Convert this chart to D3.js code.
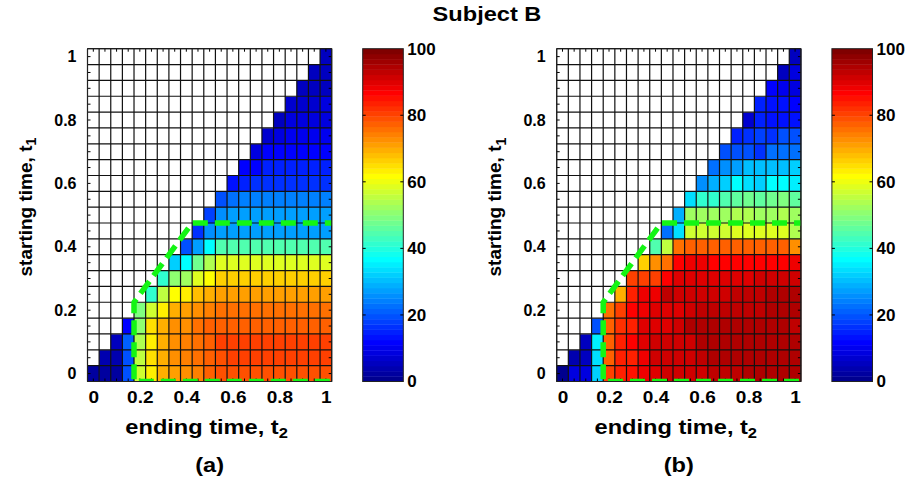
<!DOCTYPE html>
<html>
<head>
<meta charset="utf-8">
<script src="https://cdn.jsdelivr.net/npm/d3@7/dist/d3.min.js"></script>
<style>
  body { margin: 0; background: #fff; }
  svg text { font-family: "Liberation Sans", Arial, Helvetica, sans-serif; font-weight: bold; fill: #000; }
</style>
</head>
<body>
<svg id="chart" width="909" height="483"></svg>
<script>
// ---- data -------------------------------------------------------------
// grid of times, step 0.05
const tSteps = d3.range(21).map(i => +(i * 0.05).toFixed(2));
const axisTicks = [0, 0.2, 0.4, 0.6, 0.8, 1];
const colorbarTicks = [0, 20, 40, 60, 80, 100];
const panelLabels = ["(a)", "(b)"];
const chartTitle = "Subject B";

// row i = starting time t1 = tSteps[i]; entries cover ending times t2 = tSteps[i..20]
const panelA = [
  [3,3,3,19,57,64,69,71,73,74,77,79,79,79,79,79,79,79,79,79,79],
  [4,4,20,55,65,70,72,74,75,77,79,80,81,81,81,81,80,80,80,80],
  [5,21,54,64,69,72,74,76,78,80,81,81,81,81,81,80,80,80,80],
  [12,51,65,69,72,73,75,77,78,78,78,78,78,78,78,78,78,78],
  [49,57,64,70,71,72,74,75,75,75,75,75,75,75,75,75,75],
  [42,55,62,63,68,70,71,71,71,71,71,71,71,71,71,71],
  [42,51,53,59,62,66,66,66,66,66,66,66,66,66,66],
  [32,37,47,54,58,59,59,59,59,59,59,59,59,59],
  [20,28,37,44,44,44,44,44,44,44,44,44,44],
  [17,25,27,27,27,27,27,27,27,27,27,27],
  [18,26,27,27,27,27,27,27,27,27,27],
  [19,22,24,24,24,24,24,24,24,24],
  [13,15,17,17,17,17,17,17,17],
  [12,12,15,15,15,15,15,15],
  [8,11,12,12,12,12,12],
  [7,9,10,10,10,10],
  [6,8,8,8,8],
  [7,7,7,8],
  [6,6,6],
  [6,6],
  [5]
];

const panelB = [
  [1,9,9,32,80,83,85,89,90,91,91,92,92,93,93,93,94,94,94,94,94],
  [4,5,34,78,83,84,89,91,91,91,92,93,94,94,95,95,95,95,94,94],
  [6,35,78,83,87,90,91,91,91,92,94,95,95,95,95,95,95,95,94],
  [20,77,82,84,90,90,90,91,94,94,94,94,94,94,94,94,94,93],
  [75,81,86,88,90,90,90,91,93,93,93,93,93,93,94,94,94],
  [70,83,88,89,93,91,91,91,92,92,93,93,93,94,94,94],
  [80,80,81,87,90,90,90,90,90,90,90,91,91,92,92],
  [66,72,75,86,88,88,87,87,87,87,87,87,87,88],
  [44,56,75,77,77,77,77,77,77,77,77,77,72],
  [22,34,57,57,57,57,58,58,58,59,58,54],
  [29,53,53,53,53,54,54,53,53,54,52],
  [34,41,42,45,46,47,46,48,49,46],
  [26,29,32,36,34,32,36,37,35],
  [22,25,27,30,30,31,31,32],
  [20,19,19,17,23,22,23],
  [15,17,18,17,19,20],
  [7,15,14,14,14],
  [15,14,14,12],
  [11,10,8],
  [6,8],
  [6]
];

// dashed region boundary, as [t2, t1] points
const boundary = [[1.06, 0.475], [0.425, 0.475], [0.175, 0.225], [0.175, -0.025], [1.06, -0.025]];

// ---- layout -----------------------------------------------------------
const frameTop = 48.7, frameW = 244.2, frameH = 332.8;
const panelLeft = [87.5, 556.7];
const cbGap = 275.2, cbW = 40.6;
const step = 0.05, half = step / 2;
const wide = 1.18;   // horizontal stretch of the horizontal captions

const svg = d3.select("#chart");

// MATLAB-style 64-level jet colormap
const jet64 = (() => {
  const n = 16;
  const u = [null, ...d3.range(1, n + 1).map(k => k / n), ...Array(n - 1).fill(1), ...d3.range(n, 0, -1).map(k => k / n)];
  const pick = i => (i >= 1 && i < u.length) ? u[i] : 0;
  return d3.range(1, 65).map(i => d3.rgb(255 * pick(i - 24), 255 * pick(i - 8), 255 * pick(i + 8)).formatHex());
})();
const color = d3.scaleQuantize().domain([0, 100]).range(jet64);

svg.append("text")
  .attr("transform", `translate(487,21) scale(${wide},1)`)
  .attr("text-anchor", "middle")
  .style("font-size", "20px")
  .text(chartTitle);

[panelA, panelB].forEach((values, k) => {
  const left = panelLeft[k];
  const g = svg.append("g");
  const x = d3.scaleLinear().domain([-half, 1 + half]).range([left, left + frameW]);
  const y = d3.scaleLinear().domain([-half, 1 + half]).range([frameTop + frameH, frameTop]);

  const cells = [];
  tSteps.forEach((t1, i) => tSteps.forEach((t2, j) => {
    cells.push({ t1, t2, v: j >= i ? values[i][j - i] : null });
  }));

  g.selectAll("rect.cell").data(cells).join("rect")
    .attr("class", "cell")
    .attr("x", d => x(d.t2 - half))
    .attr("y", d => y(d.t1 + half))
    .attr("width", x(step) - x(0) + 0.3)
    .attr("height", y(0) - y(step) + 0.3)
    .attr("fill", d => d.v == null ? "#ffffff" : color(d.v));

  // cell edges
  const edges = d3.range(22).map(e => -half + e * step);
  g.selectAll("line.vgrid").data(edges).join("line")
    .attr("x1", d => x(d)).attr("x2", d => x(d))
    .attr("y1", y(-half)).attr("y2", y(1 + half))
    .attr("stroke", "#111").attr("stroke-width", 1.2);
  g.selectAll("line.hgrid").data(edges).join("line")
    .attr("y1", d => y(d)).attr("y2", d => y(d))
    .attr("x1", x(-half)).attr("x2", x(1 + half))
    .attr("stroke", "#111").attr("stroke-width", 1.2);

  // small inward ticks on all four sides
  const tl = 3;
  const tickG = g.append("g").attr("stroke", "#000").attr("stroke-width", 1);
  tSteps.forEach(t => {
    tickG.append("line").attr("x1", x(-half)).attr("x2", x(-half) + tl).attr("y1", y(t)).attr("y2", y(t));
    tickG.append("line").attr("x1", x(1 + half)).attr("x2", x(1 + half) - tl).attr("y1", y(t)).attr("y2", y(t));
    tickG.append("line").attr("y1", y(1 + half)).attr("y2", y(1 + half) + tl).attr("x1", x(t)).attr("x2", x(t));
    tickG.append("line").attr("y1", y(-half)).attr("y2", y(-half) - tl).attr("x1", x(t)).attr("x2", x(t));
  });

  // dashed boundary, clipped to the plot frame
  const clipId = "clip" + k;
  svg.append("clipPath").attr("id", clipId).append("rect")
    .attr("x", x(-half)).attr("y", y(1 + half))
    .attr("width", frameW).attr("height", frameH);
  g.append("path")
    .datum(boundary)
    .attr("clip-path", `url(#${clipId})`)
    .attr("d", d3.line().x(d => x(d[0])).y(d => y(d[1])))
    .attr("fill", "none")
    .attr("stroke", "#14f514")
    .attr("stroke-width", 5.5)
    .attr("stroke-dasharray", "15,7")
    .attr("stroke-linejoin", "round");

  g.append("rect")
    .attr("x", x(-half)).attr("y", y(1 + half))
    .attr("width", frameW).attr("height", frameH)
    .attr("fill", "none").attr("stroke", "#222").attr("stroke-width", 1);

  // axes
  const fmt = d3.format("~g");
  const xAxis = g.append("g")
    .attr("transform", `translate(0,${y(-half)})`)
    .call(d3.axisBottom(x).tickValues(axisTicks).tickSize(0).tickPadding(9).tickFormat(fmt));
  const yAxis = g.append("g")
    .attr("transform", `translate(${x(-half)},0)`)
    .call(d3.axisLeft(y).tickValues(axisTicks).tickSize(0).tickPadding(11).tickFormat(fmt));
  [xAxis, yAxis].forEach(a => {
    a.select(".domain").remove();
    a.selectAll("text").attr("font-family", null);
  });
  xAxis.selectAll("text").style("font-size", "17px").attr("transform", `scale(1.12,1)`);
  yAxis.selectAll("text").style("font-size", "16px");

  // axis titles
  const cx = (x(-half) + x(1 + half)) / 2;
  const xt = g.append("text")
    .attr("transform", `translate(${cx - 3},${y(-half) + 52}) scale(${wide},1)`)
    .attr("text-anchor", "middle").style("font-size", "20px");
  xt.append("tspan").text("ending time, t");
  xt.append("tspan").attr("dy", "0.35em").style("font-size", "14px").text("2");

  const yt = g.append("text")
    .attr("transform", `translate(${x(-half) - 56},${(y(-half) + y(1 + half)) / 2 - 8}) rotate(-90)`)
    .attr("text-anchor", "middle").style("font-size", "19px");
  yt.append("tspan").text("starting time, t");
  yt.append("tspan").attr("dy", "0.35em").style("font-size", "14px").text("1");

  g.append("text")
    .attr("transform", `translate(${cx},${y(-half) + 90}) scale(${wide},1)`)
    .attr("text-anchor", "middle").style("font-size", "20px")
    .text(panelLabels[k]);

  // colorbar
  const cbLeft = left + cbGap;
  const cb = d3.scaleLinear().domain([0, 100]).range([frameTop + frameH, frameTop]);
  const cbG = svg.append("g");
  cbG.selectAll("rect.level").data(jet64).join("rect")
    .attr("x", cbLeft).attr("width", cbW)
    .attr("y", (d, i) => cb((i + 1) * 100 / 64))
    .attr("height", cb(0) - cb(100 / 64) + 0.4)
    .attr("fill", d => d);
  cbG.append("rect")
    .attr("x", cbLeft).attr("y", cb(100)).attr("width", cbW).attr("height", cb(0) - cb(100))
    .attr("fill", "none").attr("stroke", "#222").attr("stroke-width", 1);
  colorbarTicks.filter(v => v > 0 && v < 100).forEach(v => {
    cbG.append("line").attr("x1", cbLeft).attr("x2", cbLeft + 3).attr("y1", cb(v)).attr("y2", cb(v)).attr("stroke", "#000");
    cbG.append("line").attr("x1", cbLeft + cbW).attr("x2", cbLeft + cbW - 3).attr("y1", cb(v)).attr("y2", cb(v)).attr("stroke", "#000");
  });
  const cbAxis = cbG.append("g")
    .attr("transform", `translate(${cbLeft + cbW},0)`)
    .call(d3.axisRight(cb).tickValues(colorbarTicks).tickSize(0).tickPadding(4));
  cbAxis.select(".domain").remove();
  cbAxis.selectAll("text").style("font-size", "17px").attr("font-family", null);
});
</script>
</body>
</html>
